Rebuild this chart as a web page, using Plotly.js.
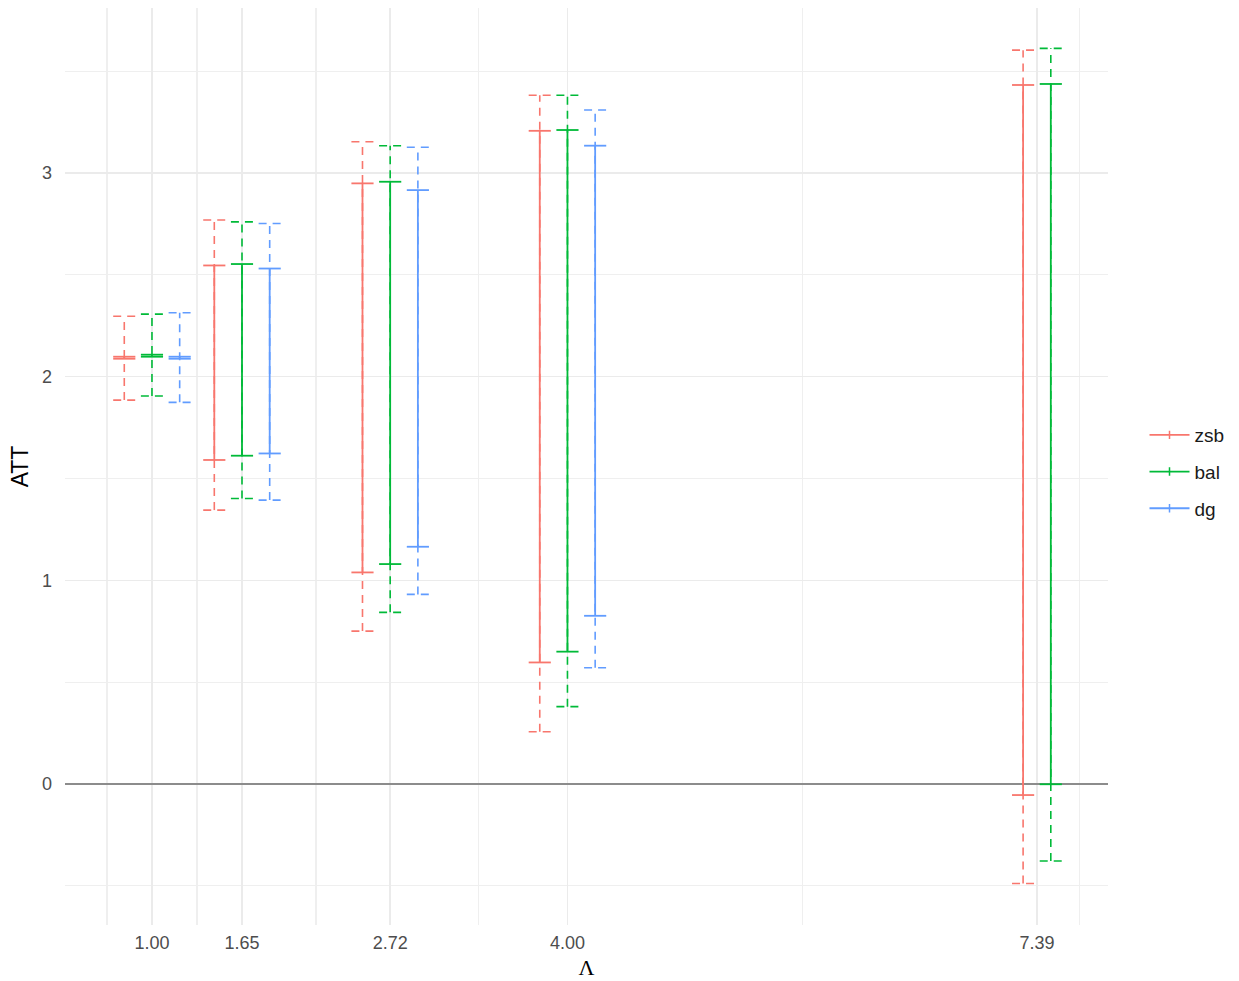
<!DOCTYPE html>
<html>
<head>
<meta charset="utf-8">
<script src="https://cdn.plot.ly/plotly-3.0.1.min.js"></script>
<style>html,body{margin:0;padding:0;background:#fff;}#chart{width:1239px;height:981px;}</style>
</head>
<body>
<div id="chart"></div>
<script>
// ---- data ----
const lambdaVals = [1.00, 1.65, 2.72, 4.00, 7.39];
const tickLabels = ['1.00', '1.65', '2.72', '4.00', '7.39'];
const seriesNames = ['zsb', 'bal', 'dg'];
const seriesColors = ['#F8766D', '#00BA38', '#619CFF'];

const zsbInnerLo = [2.088, 1.591, 1.039, 0.597, -0.054];
const zsbInnerHi = [2.098, 2.546, 2.949, 3.207, 3.432];
const zsbOuterLo = [1.885, 1.345, 0.751, 0.257, -0.488];
const zsbOuterHi = [2.297, 2.769, 3.153, 3.382, 3.603];

const balInnerLo = [2.098, 1.612, 1.080, 0.650, -0.001];
const balInnerHi = [2.108, 2.553, 2.957, 3.211, 3.437];
const balOuterLo = [1.905, 1.402, 0.843, 0.380, -0.378];
const balOuterHi = [2.307, 2.760, 3.134, 3.382, 3.612];

const dgInnerLo = [2.088, 1.623, 1.165, 0.826, null];
const dgInnerHi = [2.098, 2.531, 2.916, 3.134, null];
const dgOuterLo = [1.874, 1.394, 0.931, 0.571, null];
const dgOuterHi = [2.314, 2.752, 3.126, 3.309, null];

const xMinor = [0.675, 1.325, 2.185, 3.36, 5.695, 7.70];
const yMajor = [0, 1, 2, 3];
const yMinor = [-0.5, 0.5, 1.5, 2.5, 3.5];

// ---- build ----
const seriesData = [
  {inLo: zsbInnerLo, inHi: zsbInnerHi, outLo: zsbOuterLo, outHi: zsbOuterHi},
  {inLo: balInnerLo, inHi: balInnerHi, outLo: balOuterLo, outHi: balOuterHi},
  {inLo: dgInnerLo, inHi: dgInnerHi, outLo: dgOuterLo, outHi: dgOuterHi}
];
const dodge = 0.2, capHalf = 0.08;

// dodge offsets per category (like position_dodge: only present groups share the slot)
const offsets = seriesData.map(() => []);
lambdaVals.forEach((x, i) => {
  const present = [];
  seriesData.forEach((s, k) => { if (s.outLo[i] != null) present.push(k); });
  const n = present.length;
  present.forEach((k, j) => { offsets[k][i] = (j - (n - 1) / 2) * dodge; });
});

function errorPath(xs, lo, hi, offs) {
  const X = [], Y = [];
  xs.forEach((x0, i) => {
    if (lo[i] == null || hi[i] == null) return;
    const x = x0 + offs[i];
    X.push(x, x, null, x - capHalf, x + capHalf, null, x - capHalf, x + capHalf, null);
    Y.push(lo[i], hi[i], null, lo[i], lo[i], null, hi[i], hi[i], null);
  });
  return {X, Y};
}

const traces = [];
seriesData.forEach((s, k) => {
  const o = errorPath(lambdaVals, s.outLo, s.outHi, offsets[k]);
  traces.push({x: o.X, y: o.Y, type: 'scatter', mode: 'lines', showlegend: false, hoverinfo: 'skip',
    line: {color: seriesColors[k], width: 1.6, dash: '8px,6px'}, connectgaps: false});
});
seriesData.forEach((s, k) => {
  const p = errorPath(lambdaVals, s.inLo, s.inHi, offsets[k]);
  traces.push({x: p.X, y: p.Y, type: 'scatter', mode: 'lines', showlegend: false, hoverinfo: 'skip',
    line: {color: seriesColors[k], width: 1.8}, connectgaps: false});
});
seriesNames.forEach((n, k) => {
  traces.push({x: [null], y: [null], type: 'scatter', mode: 'lines+markers', name: n, legendgroup: n,
    line: {color: seriesColors[k], width: 1.8},
    marker: {symbol: 'line-ns', size: 6, line: {color: seriesColors[k], width: 1.5}, color: seriesColors[k]}});
});

const layout = {
  width: 1239, height: 981,
  margin: {l: 65, r: 131, t: 8, b: 56},
  paper_bgcolor: '#ffffff', plot_bgcolor: '#ffffff',
  font: {family: 'Liberation Sans, Arial, sans-serif', color: '#4d4d4d', size: 18},
  showlegend: true,
  legend: {x: 1.035, xanchor: 'left', y: 0.494, yanchor: 'middle', traceorder: 'grouped', tracegroupgap: 9,
    itemwidth: 40, font: {size: 19, color: '#1a1a1a'}, bgcolor: 'rgba(0,0,0,0)'},
  xaxis: {
    range: [0.372, 7.903], tickmode: 'array', tickvals: lambdaVals, ticktext: tickLabels,
    showgrid: true, gridcolor: '#ebebeb', gridwidth: 1.5, zeroline: false, showline: false, ticks: '',
    ticklabelstandoff: 5, tickfont: {size: 18, color: '#4d4d4d'},
    minor: {tickvals: xMinor, showgrid: true, gridcolor: '#efefef', gridwidth: 1.2, ticks: ''},
    title: {text: 'Λ', font: {family: 'Liberation Serif, DejaVu Serif, serif', size: 22, color: '#000'}, standoff: 7}
  },
  yaxis: {
    range: [-0.692, 3.810], tickmode: 'array', tickvals: yMajor, ticktext: yMajor.map(String),
    showgrid: true, gridcolor: '#ebebeb', gridwidth: 1.5, showline: false, ticks: '',
    zeroline: true, zerolinecolor: '#8c8c8c', zerolinewidth: 2,
    ticklabelstandoff: 12, tickfont: {size: 18, color: '#4d4d4d'},
    minor: {tickvals: yMinor, showgrid: true, gridcolor: '#efefef', gridwidth: 1.2, ticks: ''},
    title: {text: 'ATT', font: {size: 23, color: '#000'}, standoff: 6}
  }
};

Plotly.newPlot('chart', traces, layout, {displayModeBar: false, staticPlot: true});
</script>
</body>
</html>
